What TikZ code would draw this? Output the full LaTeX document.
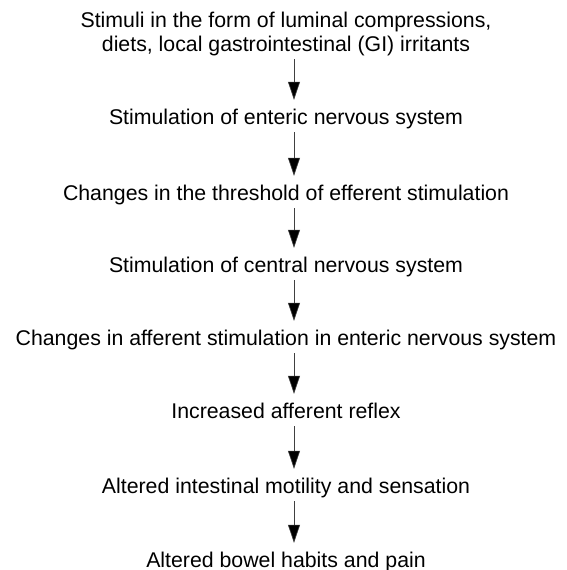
\documentclass[tikz,border=0pt]{standalone}
\usepackage{fontspec}
\setmainfont{Liberation Sans}
\usetikzlibrary{arrows.meta}

\begin{document}
\begin{tikzpicture}[x=1pt, y=1pt,
    stage/.style={anchor=base, inner sep=3pt, text height=16pt, text depth=5pt,
        font=\fontsize{21.3}{24}\selectfont, align=center},
    flow/.style={draw=black!75, line width=0.6pt,
        -{Triangle[length=18pt, width=12pt, fill=black]}, shorten >=5pt}]
    % Frame
    \useasboundingbox (0,0) rectangle (567,-570);

    % Stages, top to bottom
    \node[stage] (stimuli) at (286,-51) {Stimuli in the form of luminal compressions,\\diets, local gastrointestinal (GI) irritants};
    \node[stage] (enteric) at (286,-124) {Stimulation of enteric nervous system};
    \node[stage] (threshold) at (286,-200) {Changes in the threshold of efferent stimulation};
    \node[stage] (central) at (286,-272) {Stimulation of central nervous system};
    \node[stage] (afferent) at (286,-345) {Changes in afferent stimulation in enteric nervous system};
    \node[stage] (reflex) at (286,-418) {Increased afferent reflex};
    \node[stage] (motility) at (286,-493) {Altered intestinal motility and sensation};
    \node[stage] (habits) at (286,-567) {Altered bowel habits and pain};

    % Arrows between stages
    \foreach \a/\b in {stimuli/enteric, enteric/threshold, threshold/central,
        central/afferent, afferent/reflex, reflex/motility, motility/habits}
        \draw[flow] ([xshift=8pt]\a.south) -- ([xshift=8pt]\b.north);
\end{tikzpicture}
\end{document}
